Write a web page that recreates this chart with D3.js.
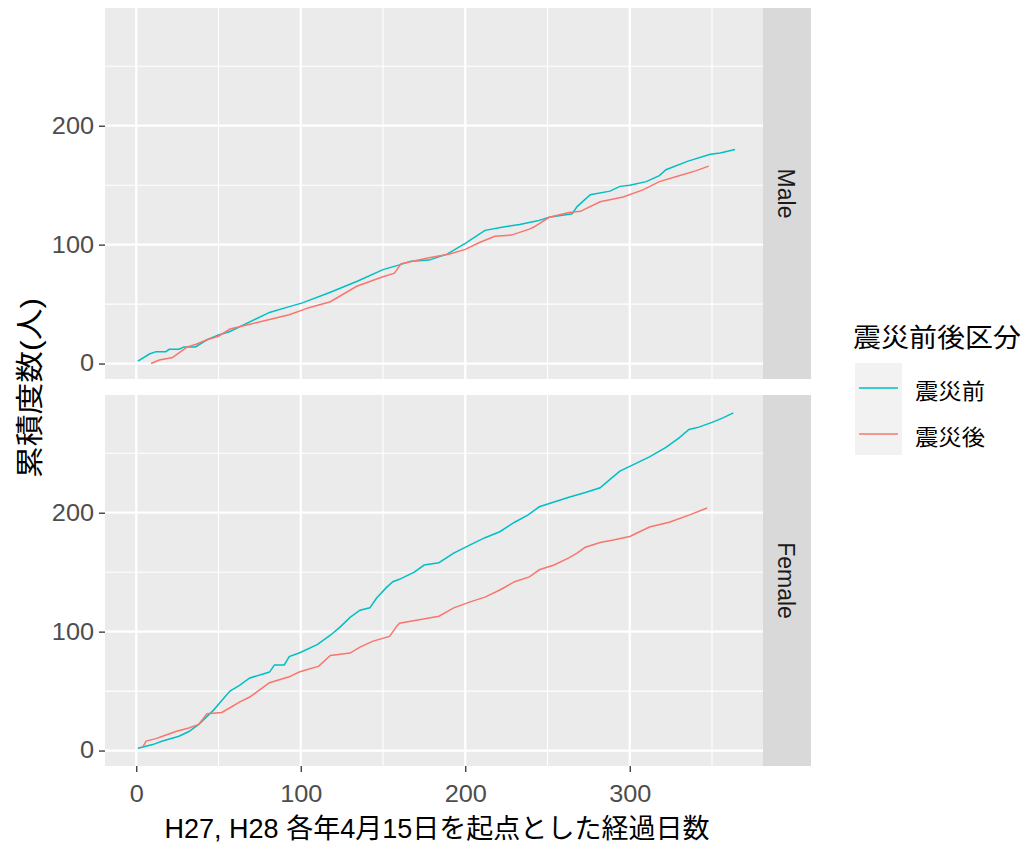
<!DOCTYPE html>
<html>
<head>
<meta charset="utf-8">
<script src="https://cdn.jsdelivr.net/npm/d3@7"></script>
<style>
  body { margin: 0; background: #fff; }
  text { font-family: "Liberation Sans", "Noto Sans CJK JP", sans-serif; }
</style>
</head>
<body>
<div id="chart"></div>
<script>
'use strict'

// facets and series
const facets = ['Male', 'Female'];
const seriesNames = ['震災前', '震災後'];
const seriesColors = ['#00BFC4', '#F8766D'];

// [day, cumulative count]
const maleBefore = [[1,2],[8,8],[12,10],[18,10],[20,12],[26,12],[29,14],[36,14],[43,20],[50,24],[57,27],[69,35],[81,43],[91,47],[101,51],[118,60],[134,69],[150,79],[160,83],[167,86],[178,87],[189,92],[200,101],[212,112],[224,115],[233,117],[244,120],[251,123],[265,126],[268,132],[276,142],[288,145],[294,149],[300,150],[310,153],[318,158],[322,163],[335,170],[349,176],[355,177],[364,180]];
const maleAfter = [[9,0],[14,3],[22,5],[26,9],[31,14],[36,16],[43,20],[50,23],[57,29],[69,33],[81,37],[93,41],[105,47],[118,52],[134,65],[150,73],[157,76],[161,84],[178,89],[190,92],[200,96],[209,102],[218,107],[228,108],[239,113],[242,115],[251,123],[263,127],[270,128],[282,136],[296,140],[308,146],[318,153],[330,158],[340,162],[348,166]];
const femaleBefore = [[1,2],[4,3],[10,5],[16,8],[26,12],[32,16],[38,22],[47,34],[52,42],[57,50],[63,55],[69,61],[81,66],[84,72],[90,72],[93,79],[99,82],[110,89],[118,97],[124,104],[130,112],[136,118],[142,120],[146,128],[152,137],[156,142],[160,144],[169,150],[175,156],[184,158],[193,166],[203,173],[212,179],[221,184],[230,192],[238,198],[245,205],[254,209],[263,213],[273,217],[282,221],[288,228],[294,235],[300,239],[312,247],[322,255],[330,263],[336,270],[342,272],[350,276],[357,280],[363,284]];
const femaleAfter = [[4,3],[6,8],[12,10],[16,12],[24,16],[32,19],[38,22],[43,31],[52,32],[57,36],[63,41],[69,45],[75,51],[81,57],[93,62],[99,66],[111,71],[118,80],[130,82],[136,87],[144,92],[154,96],[158,104],[160,107],[172,110],[184,113],[193,120],[203,125],[212,129],[221,135],[230,142],[239,146],[245,152],[254,156],[263,162],[268,166],[273,171],[282,175],[290,177],[300,180],[312,188],[324,192],[336,198],[347,204]];

const xTicks = [0, 100, 200, 300];
const xMinor = [50, 150, 250, 350];
const yTicks = [0, 100, 200];
const yMinor = [50, 150, 250];

const panelData = [[maleBefore, maleAfter], [femaleBefore, femaleAfter]];

const width = 1026, height = 845;
const left = 105, right = 763, stripW = 48;
const panelTops = [8, 395], panelH = 371;

const svg = d3.select('#chart').append('svg')
    .attr('width', width).attr('height', height);
svg.append('rect').attr('width', width).attr('height', height).attr('fill', '#fff');

const x = d3.scaleLinear().domain([-19, 381]).range([left, right]);

const line = d3.line().x(d => x(d[0]));

facets.forEach(function(f, i) {
    const top = panelTops[i];
    const y = d3.scaleLinear().domain([-13, 299]).range([top + panelH, top]);
    const g = svg.append('g');

    g.append('rect').attr('x', left).attr('y', top)
        .attr('width', right - left).attr('height', panelH).attr('fill', '#EBEBEB');

    // minor grid
    g.selectAll('.vminor').data(xMinor).enter().append('line')
        .attr('x1', d => x(d)).attr('x2', d => x(d))
        .attr('y1', top).attr('y2', top + panelH)
        .attr('stroke', '#fff').attr('stroke-width', 1.1);
    g.selectAll('.hminor').data(yMinor).enter().append('line')
        .attr('y1', d => y(d)).attr('y2', d => y(d))
        .attr('x1', left).attr('x2', right)
        .attr('stroke', '#fff').attr('stroke-width', 1.1);
    // major grid
    g.selectAll('.vmajor').data(xTicks).enter().append('line')
        .attr('x1', d => x(d)).attr('x2', d => x(d))
        .attr('y1', top).attr('y2', top + panelH)
        .attr('stroke', '#fff').attr('stroke-width', 2.2);
    g.selectAll('.hmajor').data(yTicks).enter().append('line')
        .attr('y1', d => y(d)).attr('y2', d => y(d))
        .attr('x1', left).attr('x2', right)
        .attr('stroke', '#fff').attr('stroke-width', 2.2);

    // series
    line.y(d => y(d[1]));
    panelData[i].forEach(function(s, k) {
        g.append('path').datum(s)
            .attr('fill', 'none')
            .attr('stroke', seriesColors[k])
            .attr('stroke-width', 1.5)
            .attr('d', line);
    });

    // y axis
    const yAxis = d3.axisLeft(y).tickValues(yTicks).tickSize(6).tickPadding(4);
    const ya = g.append('g').attr('transform', 'translate(' + left + ',0)').call(yAxis);
    ya.select('.domain').remove();
    ya.selectAll('line').attr('stroke', '#333').attr('stroke-width', 1.3);
    ya.selectAll('text').attr('fill', '#4D4D4D').style('font-size', '23px')
        .attr('transform', 'scale(1.1,1)');

    // strip
    g.append('rect').attr('x', right).attr('y', top)
        .attr('width', stripW).attr('height', panelH).attr('fill', '#D9D9D9');
    g.append('text')
        .attr('transform', 'translate(' + (right + stripW / 2 - 1) + ',' + (top + panelH / 2) + ') rotate(90)')
        .attr('text-anchor', 'middle').attr('dy', '0.35em')
        .attr('fill', '#1A1A1A').style('font-size', '23px')
        .text(f);

    if (i === facets.length - 1) {
        const xAxis = d3.axisBottom(x).tickValues(xTicks).tickSize(6).tickPadding(14);
        const xa = g.append('g').attr('transform', 'translate(0,' + (top + panelH) + ')').call(xAxis);
        xa.select('.domain').remove();
        xa.selectAll('line').attr('stroke', '#333').attr('stroke-width', 1.3);
        xa.selectAll('text').attr('fill', '#4D4D4D').style('font-size', '23px')
            .attr('transform', 'scale(1.1,1)');
    }
});

// axis titles
svg.append('text')
    .attr('x', 437).attr('y', 838)
    .attr('text-anchor', 'middle').attr('fill', '#000')
    .style('font-size', '27px')
    .attr('textLength', 545).attr('lengthAdjust', 'spacingAndGlyphs')
    .text('H27, H28 各年4月15日を起点とした経過日数');
svg.append('text')
    .attr('transform', 'translate(40,' + 388 + ') rotate(-90)')
    .attr('text-anchor', 'middle').attr('fill', '#000')
    .style('font-size', '28px')
    .attr('textLength', 180).attr('lengthAdjust', 'spacingAndGlyphs')
    .text('累積度数(人)');

// legend
const legend = svg.append('g').attr('transform', 'translate(853,0)');
legend.append('text').attr('x', 0).attr('y', 347)
    .attr('fill', '#000').style('font-size', '26px')
    .attr('textLength', 168).attr('lengthAdjust', 'spacingAndGlyphs')
    .text('震災前後区分');
seriesNames.forEach(function(n, k) {
    const ky = 363 + k * 46;
    legend.append('rect').attr('x', 2).attr('y', ky)
        .attr('width', 47).attr('height', 46).attr('fill', '#F2F2F2');
    legend.append('line').attr('x1', 6).attr('x2', 45)
        .attr('y1', ky + 25).attr('y2', ky + 25)
        .attr('stroke', seriesColors[k]).attr('stroke-width', 1.5);
    legend.append('text').attr('x', 62).attr('y', ky + 28)
        .attr('dy', '0.35em').attr('fill', '#000').style('font-size', '22px')
        .attr('textLength', 70).attr('lengthAdjust', 'spacingAndGlyphs')
        .text(n);
});
</script>
</body>
</html>
